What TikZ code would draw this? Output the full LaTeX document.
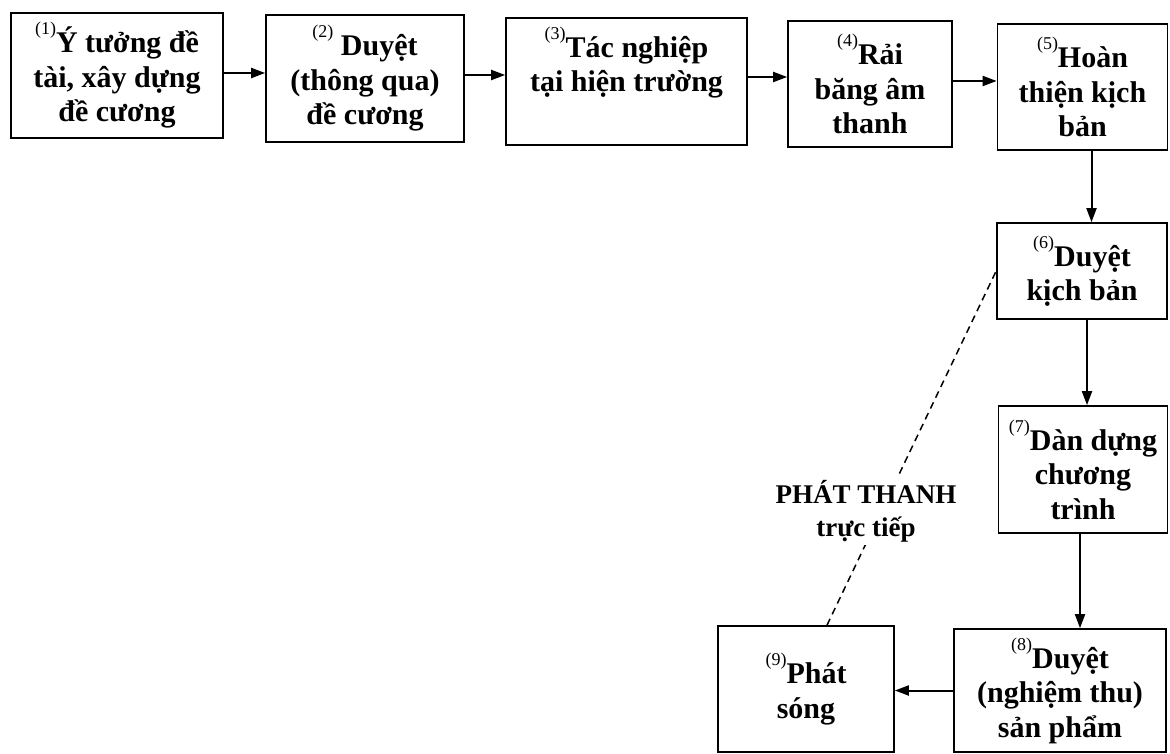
\documentclass[tikz,border=0pt]{standalone}
\usepackage{fontspec}
\setmainfont{Liberation Serif}
\usetikzlibrary{arrows.meta,calc}
\newcommand{\sn}[1]{\raisebox{0.6em}{\fontsize{18}{18}\selectfont\mdseries(#1)}}
\tikzset{
  stepbox/.style={draw=black, line width=1.7pt, align=center, inner sep=0pt,
    font=\fontsize{30}{34.5}\selectfont\bfseries},
  flow/.style={line width=2pt, -{Triangle[length=14pt,width=10pt]}},
  live/.style={line width=1.5pt, dash pattern=on 7pt off 5pt},
  lbl/.style={fill=white, align=center, inner sep=3pt,
    font=\fontsize{27}{33}\selectfont\bfseries}
}
\begin{document}
\begin{tikzpicture}[x=1pt,y=-1pt]
\useasboundingbox (0,0) rectangle (1170,754);
\node[stepbox, minimum width=212pt, minimum height=125pt] (n1) at (117,75.5)
  {\sn{1}Ý tưởng đề\\tài, xây dựng\\đề cương};
\node[stepbox, minimum width=198pt, minimum height=127pt] (n2) at (365,78.5)
  {\sn{2} Duyệt\\(thông qua)\\đề cương};
\node[stepbox, minimum width=241pt, minimum height=127pt] (n3) at (626.5,81.5)
  {\sn{3}Tác nghiệp\\tại hiện trường\\\strut};
\node[stepbox, minimum width=164pt, minimum height=126pt] (n4) at (870,84)
  {\sn{4}Rải\\băng âm\\thanh};
\node[stepbox, minimum width=170pt, minimum height=126pt] (n5) at (1082.5,87)
  {\sn{5}Hoàn\\thiện kịch\\bản};
\node[stepbox, minimum width=170pt, minimum height=96pt] (n6) at (1082,271)
  {\sn{6}Duyệt\\kịch bản};
\node[stepbox, minimum width=169pt, minimum height=127pt] (n7) at (1083,469.5)
  {\sn{7}Dàn dựng\\chương\\trình};
\node[stepbox, minimum width=212pt, minimum height=123pt] (n8) at (1060,690.5)
  {\sn{8}Duyệt\\(nghiệm thu)\\sản phẩm};
\node[stepbox, minimum width=176pt, minimum height=126pt] (n9) at (806,689)
  {\sn{9}Phát\\sóng};

\draw[flow] ([yshift=2.5pt]n1.east) -- ([yshift=2.5pt]n1.east -| n2.west);
\draw[flow] ([yshift=3.5pt]n2.east) -- ([yshift=3.5pt]n2.east -| n3.west);
\draw[flow] ([yshift=4.5pt]n3.east) -- ([yshift=4.5pt]n3.east -| n4.west);
\draw[flow] ([yshift=3pt]n4.east) -- ([yshift=3pt]n4.east -| n5.west);
\draw[flow] ([xshift=9pt]n5.south) -- ([xshift=9pt]n5.south |- n6.north);
\draw[flow] ([xshift=5pt]n6.south) -- ([xshift=5pt]n6.south |- n7.north);
\draw[flow] ([xshift=-3pt]n7.south) -- ([xshift=-3pt]n7.south |- n8.north);
\draw[flow] (n8.west) -- (n8.west -| n9.east);

\draw[live] ([xshift=21pt]n9.north) -- (n6.west);
\node[lbl] (live) at (866,511) {PHÁT THANH\\trực tiếp};
\end{tikzpicture}
\end{document}
